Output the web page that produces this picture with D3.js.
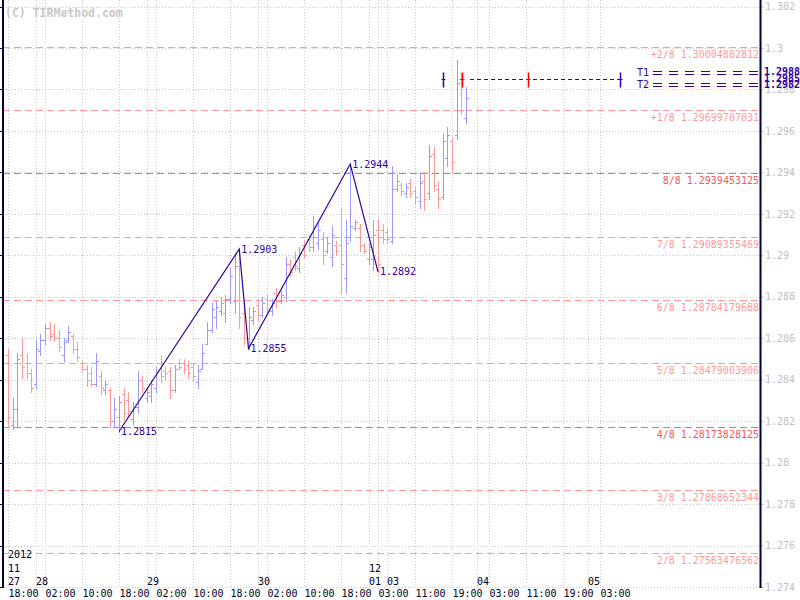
<!DOCTYPE html>
<html><head><meta charset="utf-8">
<script src="https://cdn.jsdelivr.net/npm/d3@7"></script>
<style>
html,body{margin:0;padding:0;background:#fff;}
svg{display:block;background:#fff;}
text{font-family:"DejaVu Sans Mono",monospace;font-size:10px;}
</style></head><body>
<svg id="c" width="800" height="600"></svg>
<script>
// ---------- DATA ----------
const opens  = [1.2852,1.2818,1.2826,1.2852,1.2848,1.2843,1.2838,1.2854,1.2859,1.2865,
                1.2862,1.2860,1.2852,1.2859,1.2861,1.2855,1.2848,1.2845,1.2843,1.2838,
                1.2842,1.2835,1.2835,1.2820,1.2822,1.2833,1.2830,1.2821,1.2827,1.2840,
                1.2831,1.2832,1.2836,1.2845,1.2844,1.2844,1.2835,1.2848,1.2848,1.2847,
                1.2846,1.2839,1.2845,1.2857,1.2864,1.2870,1.2873,1.2872,1.2879,1.2878,
                1.2895,1.2872,1.2860,1.2869,1.2876,1.2871,1.2879,1.2873,1.2882,1.2878,
                1.2880,1.2896,1.2899,1.2894,1.2905,1.2908,1.2904,1.2906,1.2908,1.2902,
                1.2899,1.2905,1.2905,1.2889,1.2909,1.2913,1.2913,1.2905,1.2898,1.2898,
                1.2912,1.2912,1.2911,1.2907,1.2932,1.2934,1.2930,1.2935,1.2931,1.2926,
                1.2936,1.2930,1.2949,1.2932,1.2928,1.2947,1.2955,1.2958,1.2985,1.2966];
const highs  = [1.2855,1.2831,1.2853,1.2860,1.2853,1.2845,1.2859,1.2862,1.2867,1.2868,
                1.2867,1.2864,1.2860,1.2866,1.2862,1.2858,1.2849,1.2847,1.2846,1.2853,
                1.2844,1.2840,1.2836,1.2831,1.2832,1.2836,1.2834,1.2829,1.2844,1.2842,
                1.2836,1.2840,1.2846,1.2852,1.2846,1.2846,1.2847,1.2850,1.2850,1.2849,
                1.2848,1.2847,1.2857,1.2868,1.2877,1.2878,1.2880,1.2881,1.2894,1.2901,
                1.2903,1.2879,1.2875,1.2875,1.2879,1.2880,1.2881,1.2879,1.2884,1.2883,
                1.2899,1.2898,1.2902,1.2904,1.2907,1.2910,1.2919,1.2916,1.2911,1.2909,
                1.2914,1.2907,1.2923,1.2917,1.2944,1.2917,1.2915,1.2906,1.2906,1.2917,
                1.2917,1.2915,1.2913,1.2943,1.2939,1.2935,1.2935,1.2937,1.2933,1.2940,
                1.2940,1.2953,1.2952,1.2936,1.2959,1.2962,1.2957,1.2994,1.2988,1.2981];
const lows   = [1.2817,1.2816,1.2817,1.2841,1.2841,1.2834,1.2836,1.2852,1.2857,1.2859,
                1.2859,1.2854,1.2849,1.2858,1.2853,1.2849,1.2844,1.2837,1.2837,1.2837,
                1.2833,1.2833,1.2817,1.2817,1.2815,1.2821,1.2822,1.2818,1.2824,1.2834,
                1.2829,1.2829,1.2834,1.2839,1.2840,1.2831,1.2834,1.2845,1.2843,1.2841,
                1.2840,1.2836,1.2845,1.2857,1.2863,1.2865,1.2871,1.2868,1.2877,1.2872,
                1.2865,1.2857,1.2855,1.2867,1.2869,1.2870,1.2872,1.2871,1.2875,1.2877,
                1.2878,1.2890,1.2893,1.2892,1.2899,1.2902,1.2902,1.2903,1.2896,1.2901,
                1.2895,1.2900,1.2882,1.2882,1.2907,1.2912,1.2902,1.2901,1.2896,1.2893,
                1.2892,1.2906,1.2906,1.2906,1.2931,1.2929,1.2928,1.2928,1.2925,1.2923,
                1.2922,1.2927,1.2931,1.2923,1.2927,1.2943,1.2940,1.2956,1.2968,1.2964];
const closes = [1.2822,1.2826,1.2850,1.2846,1.2843,1.2836,1.2855,1.2859,1.2865,1.2861,
                1.2860,1.2856,1.2858,1.2863,1.2855,1.2851,1.2845,1.2840,1.2838,1.2849,
                1.2836,1.2838,1.2820,1.2826,1.2829,1.2824,1.2825,1.2827,1.2840,1.2836,
                1.2834,1.2838,1.2844,1.2842,1.2843,1.2835,1.2845,1.2846,1.2845,1.2843,
                1.2842,1.2844,1.2853,1.2864,1.2874,1.2875,1.2877,1.2879,1.2890,1.2895,
                1.2870,1.2860,1.2870,1.2873,1.2871,1.2877,1.2874,1.2877,1.2878,1.2881,
                1.2896,1.2892,1.2895,1.2901,1.2900,1.2904,1.2914,1.2912,1.2900,1.2906,
                1.2910,1.2902,1.2896,1.2906,1.2914,1.2916,1.2905,1.2902,1.2904,1.2910,
                1.2896,1.2908,1.2908,1.2932,1.2936,1.2931,1.2933,1.2930,1.2928,1.2935,
                1.2927,1.2948,1.2934,1.2927,1.2955,1.2958,1.2945,1.2983,1.2970,1.2976];

const priceTicks = [1.274,1.276,1.278,1.28,1.282,1.284,1.286,1.288,1.29,1.292,1.294,1.296,1.298,1.3,1.302];

const timeTickIdx = [0,8,16,24,32,40,48,56,64,72,80,88,96,104,112,120,128];
const timeTickLabels = ["18:00","02:00","10:00","18:00","02:00","10:00","18:00","02:00","10:00","18:00","03:00","11:00","19:00","03:00","11:00","19:00","03:00"];
const dayTickIdx = [0,6,30,54,78,82,101.5,125.5];
const dayTickLabels = ["27","28","29","30","01","03","04","05"];
const monthTickIdx = [0,78];
const monthTickLabels = ["11","12"];
const yearTickIdx = [0];
const yearTickLabels = ["2012"];

const murreyNames = ["+2/8","+1/8","8/8","7/8","6/8","5/8","4/8","3/8","2/8"];
const murreyValues = [1.30004882812,1.29699707031,1.2939453125,1.29089355469,1.28784179688,1.28479003906,1.28173828125,1.27868652344,1.27563476562];
const murreyStrong = ["8/8","4/8"];

const zigzagIdx = [24,50,52,74,80];
const zigzagVals = [1.2815,1.2903,1.2855,1.2944,1.2892];

const targetNames = ["T1","T2"];
const targetVals = [1.2988,1.2982];
const axisTargetLabels = ["1.2988","1.2985","1.2982"];
const axisTargetVals = [1.2988,1.2985,1.2982];
const projectionVal = 1.2985;
const projectionIdx = [99.9,132.4];
const markerIdx = [94.1,98.2,112.4,132.4];
const markerColors = ["#330099","#ff0000","#ff0000","#330099"];

// ---------- CHART ----------
const svg = d3.select("#c");
const x = d3.scaleLinear().domain([0,128]).range([8,600]);
const y = d3.scaleLinear().domain([1.274,1.302]).range([587,6.5]);
const px = v => Math.round(v) + 0.5;
const L = 3, R = 760, T = 0, B = 587;
const GRID = "#c8c8c8", NAVY = "#330099", AX = "#000033";
const UP = "#9999ff", DN = "#ff9999";

// horizontal grid
svg.append("g").selectAll("line").data(priceTicks).join("line")
  .attr("x1", L).attr("x2", R)
  .attr("y1", d => px(y(d))).attr("y2", d => px(y(d)))
  .attr("stroke", GRID).attr("stroke-dasharray", "1,2");

// vertical grid
const vgrid = Array.from(new Set(timeTickIdx.concat(dayTickIdx)));
svg.append("g").selectAll("line").data(vgrid).join("line")
  .attr("x1", d => px(x(d))).attr("x2", d => px(x(d)))
  .attr("y1", T).attr("y2", B)
  .attr("stroke", GRID).attr("stroke-dasharray", "1,2");

// murrey lines
const mg = svg.append("g");
murreyValues.forEach((v, i) => {
  const strong = murreyStrong.includes(murreyNames[i]);
  const col = strong ? "#ff6666" : "#ff9999";
  mg.append("line").attr("x1", L).attr("x2", R)
    .attr("y1", px(y(v))).attr("y2", px(y(v)))
    .attr("stroke", col).attr("stroke-dasharray", "7,4");
  mg.append("text").attr("x", 759).attr("y", Math.round(y(v)) + 11)
    .attr("text-anchor", "end").attr("fill", strong ? "#f05a5a" : "#ff9999")
    .text(murreyNames[i] + " " + String(v));
});

// bars
const bg = svg.append("g");
opens.forEach((o, i) => {
  const c = closes[i], col = c >= o ? UP : DN;
  const xx = px(x(i));
  bg.append("line").attr("x1", xx).attr("x2", xx)
    .attr("y1", Math.round(y(highs[i]))).attr("y2", Math.round(y(lows[i])) + 1)
    .attr("stroke", col);
  bg.append("line").attr("x1", xx - 2.5).attr("x2", xx)
    .attr("y1", px(y(o))).attr("y2", px(y(o))).attr("stroke", col);
  bg.append("line").attr("x1", xx).attr("x2", xx + 2.5)
    .attr("y1", px(y(c))).attr("y2", px(y(c))).attr("stroke", col);
});

// zigzag
const zz = zigzagIdx.map((d, i) => [x(d), y(zigzagVals[i])]);
svg.append("path").attr("d", d3.line()(zz)).attr("fill", "none")
  .attr("stroke", NAVY).attr("stroke-width", 1.2);
svg.append("g").selectAll("text").data(zz).join("text")
  .attr("x", d => d[0] + 2).attr("y", d => d[1]).attr("dy", "0.35em")
  .attr("fill", NAVY).text((d, i) => zigzagVals[i].toFixed(4));

// projection line & markers
const py = px(y(projectionVal));
svg.append("line").attr("x1", x(projectionIdx[0])).attr("x2", x(projectionIdx[1]))
  .attr("y1", py).attr("y2", py).attr("stroke", NAVY).attr("stroke-dasharray", "4,3");
markerIdx.forEach((m, i) => {
  const xx = px(x(m));
  svg.append("line").attr("x1", xx).attr("x2", xx).attr("y1", py - 7).attr("y2", py + 8)
    .attr("stroke", markerColors[i]).attr("stroke-width", 1.5);
  svg.append("line").attr("x1", xx - 2).attr("x2", xx + 2).attr("y1", py).attr("y2", py)
    .attr("stroke", markerColors[i]);
});

// target lines
targetVals.forEach((v, i) => {
  const ty = Math.round(y(v));
  [-2, 1].forEach(off => {
    svg.append("line").attr("x1", 653).attr("x2", 758)
      .attr("y1", ty + off + 0.5).attr("y2", ty + off + 0.5)
      .attr("stroke", NAVY).attr("stroke-dasharray", "9,7");
  });
  svg.append("text").attr("x", 637).attr("y", ty - 1).attr("dy", "0.35em")
    .attr("fill", NAVY).text(targetNames[i]);
});

// right axis
const yAxis = d3.axisRight(y).tickValues(priceTicks).tickSize(4).tickPadding(1)
  .tickFormat(d => String(+d.toFixed(3)));
const ya = svg.append("g").attr("transform", `translate(${R},0)`).call(yAxis);
ya.select(".domain").remove();
ya.selectAll(".tick line").attr("stroke", GRID);
ya.selectAll(".tick text").attr("fill", "#c0c0c0")
  .style("font-family", "DejaVu Sans Mono, monospace").style("font-size", "10px");
svg.append("line").attr("x1", R + 0.5).attr("x2", R + 0.5).attr("y1", 0).attr("y2", B + 1)
  .attr("stroke", AX).attr("stroke-width", 2);

// target axis labels
axisTargetVals.forEach((v, i) => {
  svg.append("text").attr("x", 764).attr("y", y(v) - 1).attr("dy", "0.35em")
    .attr("fill", NAVY).attr("font-weight", "bold").text(axisTargetLabels[i]);
});

// left axis
svg.append("line").attr("x1", L).attr("x2", L).attr("y1", 0).attr("y2", B + 1)
  .attr("stroke", AX).attr("stroke-width", 2);
svg.append("g").selectAll("line").data(priceTicks).join("line")
  .attr("x1", 0).attr("x2", L).attr("y1", d => px(y(d))).attr("y2", d => px(y(d)))
  .attr("stroke", AX);

// bottom time axis
const xAxis = d3.axisBottom(x).tickValues(timeTickIdx).tickSize(0).tickPadding(1)
  .tickFormat((d, i) => timeTickLabels[i]);
const xa = svg.append("g").attr("transform", `translate(0,${B + 2})`).call(xAxis);
xa.select(".domain").remove();
xa.selectAll(".tick text").attr("text-anchor", "start").attr("fill", "#000022")
  .style("font-family", "DejaVu Sans Mono, monospace").style("font-size", "10px");

// day / month / year rows
function row(idx, labels, baseline) {
  svg.append("g").selectAll("text").data(idx).join("text")
    .attr("x", d => Math.round(x(d))).attr("y", baseline)
    .attr("fill", "#000022").text((d, i) => labels[i]);
}
row(dayTickIdx, dayTickLabels, 585);
row(monthTickIdx, monthTickLabels, 571.5);
row(yearTickIdx, yearTickLabels, 558);

// copyright
svg.append("text").attr("x", 5).attr("y", 17).attr("fill", "#c8c8c8")
  .attr("font-weight", "bold").style("font-size", "11.5px").text("(C) TIRMethod.com");
</script>
</body></html>
